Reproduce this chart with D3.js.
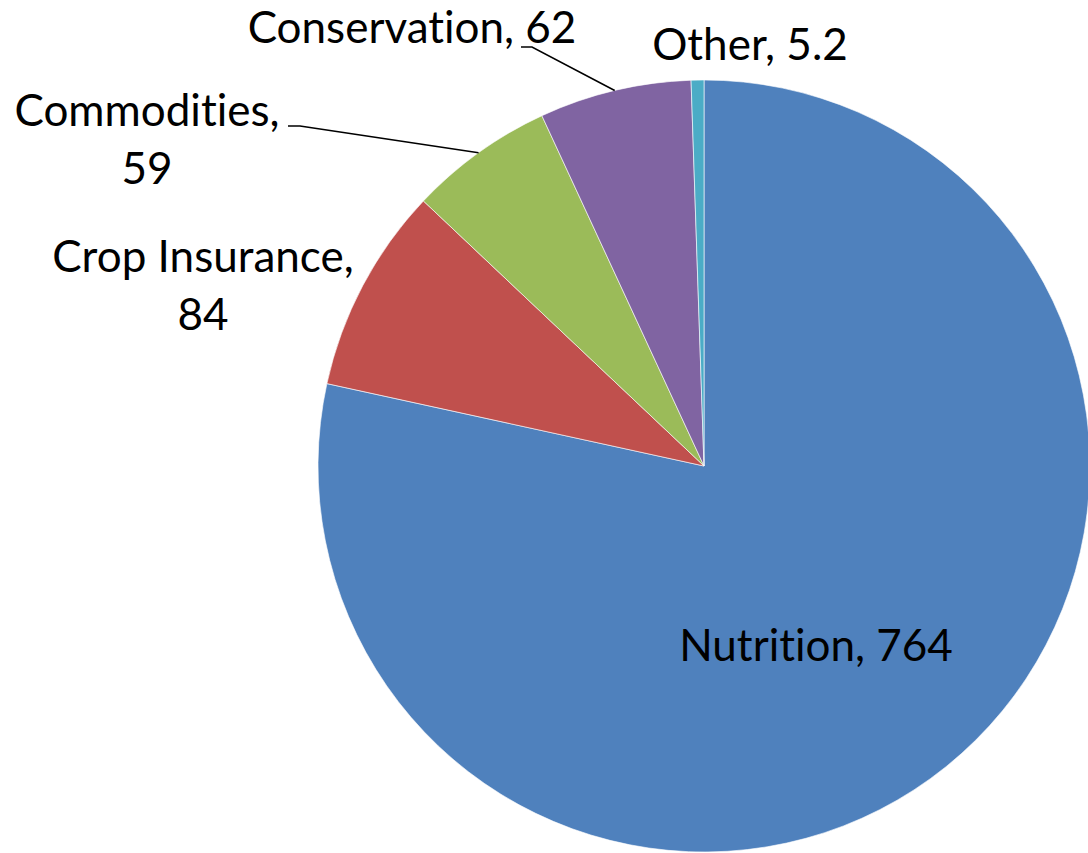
<!DOCTYPE html>
<html>
<head>
<meta charset="utf-8">
<script src="https://cdn.jsdelivr.net/npm/d3@7"></script>
<style>
  html, body { margin: 0; padding: 0; background: #fff; }
  svg { display: block; }
  text { font-family: Lato, "Open Sans", sans-serif; fill: #000; font-variant-ligatures: none; font-feature-settings: "liga" 0, "clig" 0; }
</style>
</head>
<body>
<svg id="chart" width="1088" height="853"></svg>
<script>
// ---- data ----
const categories = ["Nutrition", "Crop Insurance", "Commodities", "Conservation", "Other"];
const values = [764, 84, 59, 62, 5.2];
const valueLabels = ["764", "84", "59", "62", "5.2"];
const colors = ["#4F81BD", "#C0504D", "#9BBB59", "#8064A2", "#4BACC6"];

// ---- layout ----
const W = 1088, H = 853;
const cx = 704, cy = 466, R = 386;
const fontSize = 44;
// label placement: x center, first baseline, number of lines, leader line start (or null)
const labelLayout = [
  { x: 816, y: 661, lines: 1, leader: null },
  { x: 203, y: 272, lines: 2, leader: null },
  { x: 147, y: 126, lines: 2, leader: [288, 126, 300, 126] },
  { x: 412, y: 43, lines: 1, leader: [521, 47, 532, 47] },
  { x: 750, y: 60, lines: 1, leader: null }
];

const svg = d3.select("#chart");
const g = svg.append("g").attr("transform", `translate(${cx},${cy})`);

const pie = d3.pie().sort(null).value(d => d.value);
const arcs = pie(categories.map((c, i) => ({ name: c, value: values[i], label: valueLabels[i], color: colors[i] })));
const arc = d3.arc().innerRadius(0).outerRadius(R);

g.selectAll("path.slice")
  .data(arcs)
  .join("path")
  .attr("class", "slice")
  .attr("d", arc)
  .attr("fill", d => d.data.color)
  .attr("stroke", "#fff")
  .attr("stroke-width", 1)
  .attr("stroke-opacity", 0.6);

// leader lines
arcs.forEach((d, i) => {
  const L = labelLayout[i];
  if (!L.leader) return;
  const mid = (d.startAngle + d.endAngle) / 2;
  const ex = cx + R * Math.sin(mid);
  const ey = cy - R * Math.cos(mid);
  svg.append("polyline")
    .attr("points", `${L.leader[0]},${L.leader[1]} ${L.leader[2]},${L.leader[3]} ${ex},${ey}`)
    .attr("fill", "none")
    .attr("stroke", "#000")
    .attr("stroke-width", 1.5);
});

// labels
arcs.forEach((d, i) => {
  const L = labelLayout[i];
  const t = svg.append("text")
    .attr("text-anchor", "middle")
    .attr("font-size", fontSize);
  if (L.lines === 1) {
    t.append("tspan").attr("x", L.x).attr("y", L.y).text(`${d.data.name}, ${d.data.label}`);
  } else {
    t.append("tspan").attr("x", L.x).attr("y", L.y).text(`${d.data.name},`);
    t.append("tspan").attr("x", L.x).attr("y", L.y + 58).text(d.data.label);
  }
});
</script>
</body>
</html>
